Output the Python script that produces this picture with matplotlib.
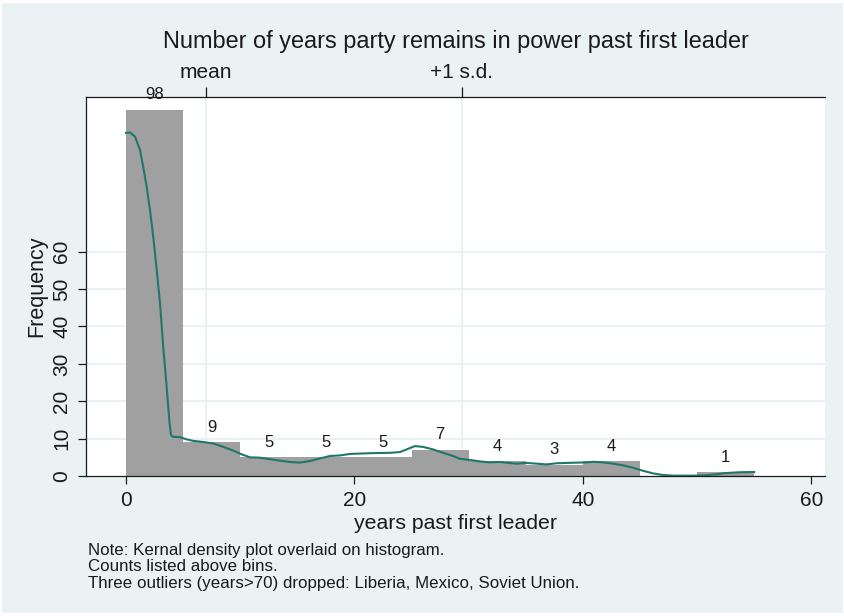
import numpy as np
import matplotlib.pyplot as plt
from matplotlib.patches import Rectangle

plt.rcParams['font.family'] = ['Liberation Sans', 'DejaVu Sans']

# histogram bins (width 5 years) and counts
bin_left = [0, 5, 10, 15, 20, 25, 30, 35, 40, 45, 50]
counts = [98, 9, 5, 5, 5, 7, 4, 3, 4, 0, 1]
bin_width = 5

# kernel density, scaled to frequency
kde_x = [0.0, 0.35, 0.79, 1.23, 1.51, 1.81, 2.10, 2.39, 2.69, 2.98, 3.26, 3.56,
         3.79, 3.94, 4.1, 4.73, 5.31, 5.89, 6.76, 7.64, 8.51, 9.39, 10.12, 10.85,
         11.73, 12.6, 13.48, 14.35, 15.23, 16.1, 16.98, 17.85, 18.73, 19.6, 20.48,
         21.35, 22.2, 23.1, 23.98, 24.56, 25.29, 26.0, 26.9, 27.77, 28.64, 29.23,
         30.1, 30.98, 31.85, 32.73, 33.31, 34.19, 35.06, 35.94, 36.81, 37.69,
         38.56, 39.44, 40.31, 40.89, 41.77, 42.64, 43.52, 44.39, 45.27, 46.14,
         47.0, 47.9, 49.6, 50.8, 51.7, 52.56, 53.7, 55.0]
kde_y = [91.8, 91.9, 90.8, 87.2, 82.7, 77.4, 71.2, 64.0, 55.1, 46.2, 34.6, 23.9,
         15.0, 11.0, 10.5, 10.4, 9.8, 9.4, 9.1, 8.7, 7.8, 6.8, 5.8, 5.0,
         4.9, 4.5, 4.1, 3.75, 3.6, 4.0, 4.7, 5.35, 5.5, 5.9, 6.0,
         6.1, 6.15, 6.2, 6.4, 7.1, 8.0, 7.8, 7.1, 6.2, 5.35, 4.6,
         4.3, 3.9, 3.65, 3.75, 3.57, 3.3, 3.5, 3.3, 3.1, 3.4,
         3.5, 3.57, 3.65, 3.8, 3.65, 3.3, 2.85, 2.2, 1.4, 0.7,
         0.27, 0.1, 0.1, 0.2, 0.45, 0.8, 1.0, 1.07]

mean_years = 7.0
plus_sd = 29.4
y_ticks = [0, 10, 20, 30, 40, 50, 60]
x_ticks = [0, 20, 40, 60]

notes = ["Note: Kernal density plot overlaid on histogram.",
         "Counts listed above bins.",
         "Three outliers (years>70) dropped: Liberia, Mexico, Soviet Union."]

bg = '#eaf2f3'
grid_col = '#e9f1f2'
ink = '#1a1a1a'

fig = plt.figure(figsize=(8.45, 6.16), dpi=100, facecolor='white')
fig.patches.append(Rectangle((2 / 845, 3 / 616), 841 / 845, 610 / 616,
                             transform=fig.transFigure, facecolor=bg,
                             edgecolor='none', zorder=-1))
ax = fig.add_axes([86 / 845, 140 / 616, 739 / 845, 379 / 616])
ax.set_facecolor('white')

# grid and reference lines under the bars
for yv in y_ticks[1:]:
    ax.axhline(yv, color=grid_col, lw=1.4, zorder=0)
for xv in [mean_years, plus_sd]:
    ax.axvline(xv, color=grid_col, lw=1.4, zorder=0)

ax.bar(bin_left, counts, width=bin_width, align='edge', color='#a0a0a0',
       edgecolor='none', zorder=2)
for xl, c in zip(bin_left, counts):
    if c > 0:
        ax.annotate(str(c), (xl + bin_width / 2, c), xytext=(0, 7.5),
                    textcoords='offset points', ha='center', va='baseline',
                    fontsize=12, color=ink, zorder=4, annotation_clip=False)

ax.plot(kde_x, kde_y, color='#1f7867', lw=1.5, zorder=3)

ax.set_xlim(-3.5, 61.2)
ax.set_ylim(0, 101.4)
ax.set_xticks(x_ticks)
ax.set_yticks(y_ticks)
ax.tick_params(axis='both', labelsize=15, length=5.5, width=0.9, pad=5,
               colors=ink)
plt.setp(ax.get_yticklabels(), rotation=90, va='center')

for side in ['left', 'bottom', 'top']:
    ax.spines[side].set_linewidth(0.9)
    ax.spines[side].set_color(ink)
ax.spines['right'].set_visible(False)

# mean and +1 s.d. marked on the top axis
top = ax.secondary_xaxis('top')
top.set_xticks([mean_years, plus_sd], labels=['mean', '+1 s.d.'])
top.tick_params(labelsize=15, length=7, width=0.9, pad=4, colors=ink)
top.spines['top'].set_visible(False)

ax.set_xlabel('years past first leader', fontsize=15.3, labelpad=3, color=ink)
ax.set_ylabel('Frequency', fontsize=15.5, labelpad=4, color=ink)
ax.set_title('Number of years party remains in power past first leader',
             fontsize=16.9, pad=35, color=ink)

for i, line in enumerate(notes):
    fig.text(88 / 845, (616 - 550 - 16.7 * i) / 616, line, fontsize=12.2,
             va='center', ha='left', color=ink)

fig.savefig('out.png', dpi=100, facecolor=fig.get_facecolor())
